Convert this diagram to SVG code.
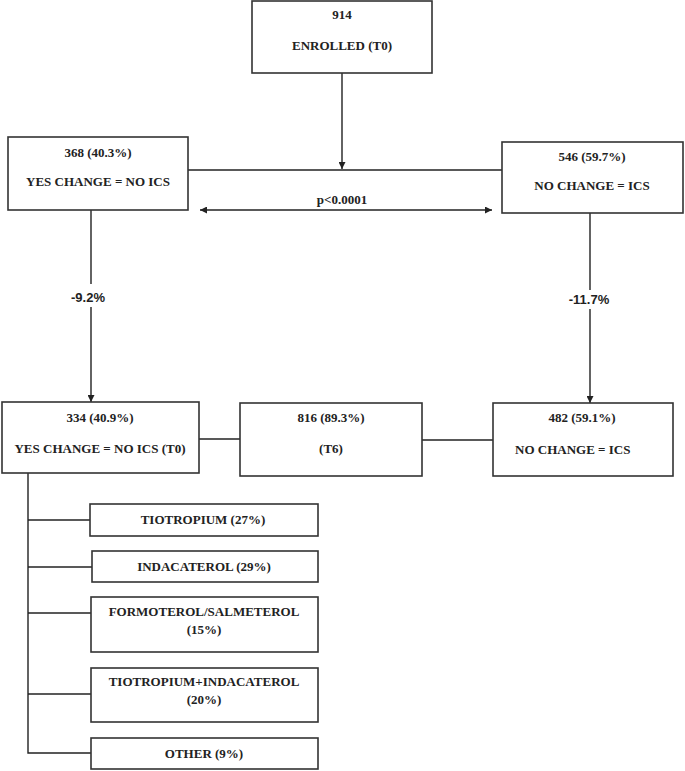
<svg xmlns="http://www.w3.org/2000/svg" width="685" height="771" viewBox="0 0 685 771">
<style>
.box{fill:#fff;stroke:#333;stroke-width:1.6}
.ln{fill:none;stroke:#222;stroke-width:1.4}
text{font-family:"Liberation Serif","Times New Roman",serif;font-weight:bold;font-size:13px;fill:#222}
.c{text-anchor:middle}
.s{font-family:"Liberation Sans",Arial,sans-serif;font-size:13px}
</style>
<defs>
<marker id="ah" viewBox="0 0 10 10" refX="10" refY="5" markerWidth="7" markerHeight="7" markerUnits="userSpaceOnUse" orient="auto-start-reverse">
<path d="M0,0 L10,5 L0,10 Z" fill="#222"/>
</marker>
</defs>
<rect width="685" height="771" fill="#fff"/>
<g id="connectors">
<line class="ln" x1="342" y1="73" x2="342" y2="169" marker-end="url(#ah)"/>
<line class="ln" x1="188" y1="170" x2="502" y2="170"/>
<line class="ln" x1="200" y1="210" x2="492" y2="210" marker-start="url(#ah)" marker-end="url(#ah)"/>
<line class="ln" x1="91" y1="210" x2="91" y2="284"/>
<line class="ln" x1="91" y1="307" x2="91" y2="402" marker-end="url(#ah)"/>
<line class="ln" x1="590" y1="213" x2="590" y2="290"/>
<line class="ln" x1="590" y1="309" x2="590" y2="403" marker-end="url(#ah)"/>
<line class="ln" x1="199" y1="439" x2="240" y2="439"/>
<line class="ln" x1="422" y1="440" x2="493" y2="440"/>
<polyline class="ln" points="28,473 28,753 91,753"/>
<line class="ln" x1="28" y1="520" x2="90" y2="520"/>
<line class="ln" x1="28" y1="567" x2="92" y2="567"/>
<line class="ln" x1="28" y1="613" x2="91" y2="613"/>
<line class="ln" x1="28" y1="694" x2="91" y2="694"/>
<text class="c" x="342" y="204">p&lt;0.0001</text>
<text class="c s" x="88" y="302">-9.2%</text>
<text class="c s" x="589" y="304">-11.7%</text>
</g>
<g id="enrolled">
<rect class="box" x="252" y="1" width="180" height="72"/>
<text class="c" x="342" y="19">914</text>
<text class="c" x="342" y="50">ENROLLED (T0)</text>
</g>
<g id="yes-change">
<rect class="box" x="8" y="137" width="180" height="73"/>
<text class="c" x="98" y="157">368 (40.3%)</text>
<text class="c" x="98" y="186">YES CHANGE = NO ICS</text>
</g>
<g id="no-change">
<rect class="box" x="502" y="142" width="181" height="71"/>
<text class="c" x="592" y="161">546 (59.7%)</text>
<text class="c" x="592" y="190">NO CHANGE = ICS</text>
</g>
<g id="yes-change-t0">
<rect class="box" x="2" y="402" width="197" height="71"/>
<text class="c" x="100" y="422">334 (40.9%)</text>
<text class="c" x="100" y="453">YES CHANGE = NO ICS (T0)</text>
</g>
<g id="t6">
<rect class="box" x="240" y="403" width="182" height="73"/>
<text class="c" x="331" y="422">816 (89.3%)</text>
<text class="c" x="331" y="453">(T6)</text>
</g>
<g id="no-change-t6">
<rect class="box" x="493" y="403" width="180" height="73"/>
<text class="c" x="582" y="422">482 (59.1%)</text>
<text x="515" y="454">NO CHANGE = ICS</text>
</g>
<g id="tiotropium">
<rect class="box" x="90" y="504" width="228" height="32"/>
<text class="c" x="203" y="524">TIOTROPIUM (27%)</text>
</g>
<g id="indacaterol">
<rect class="box" x="92" y="551" width="226" height="31"/>
<text class="c" x="204" y="571">INDACATEROL (29%)</text>
</g>
<g id="formoterol">
<rect class="box" x="91" y="597" width="227" height="55"/>
<text class="c" x="204" y="616">FORMOTEROL/SALMETEROL</text>
<text class="c" x="204" y="634">(15%)</text>
</g>
<g id="tio-inda">
<rect class="box" x="91" y="668" width="227" height="54"/>
<text class="c" x="204" y="686">TIOTROPIUM+INDACATEROL</text>
<text class="c" x="204" y="704">(20%)</text>
</g>
<g id="other">
<rect class="box" x="91" y="738" width="227" height="31"/>
<text class="c" x="204" y="758">OTHER (9%)</text>
</g>
</svg>
